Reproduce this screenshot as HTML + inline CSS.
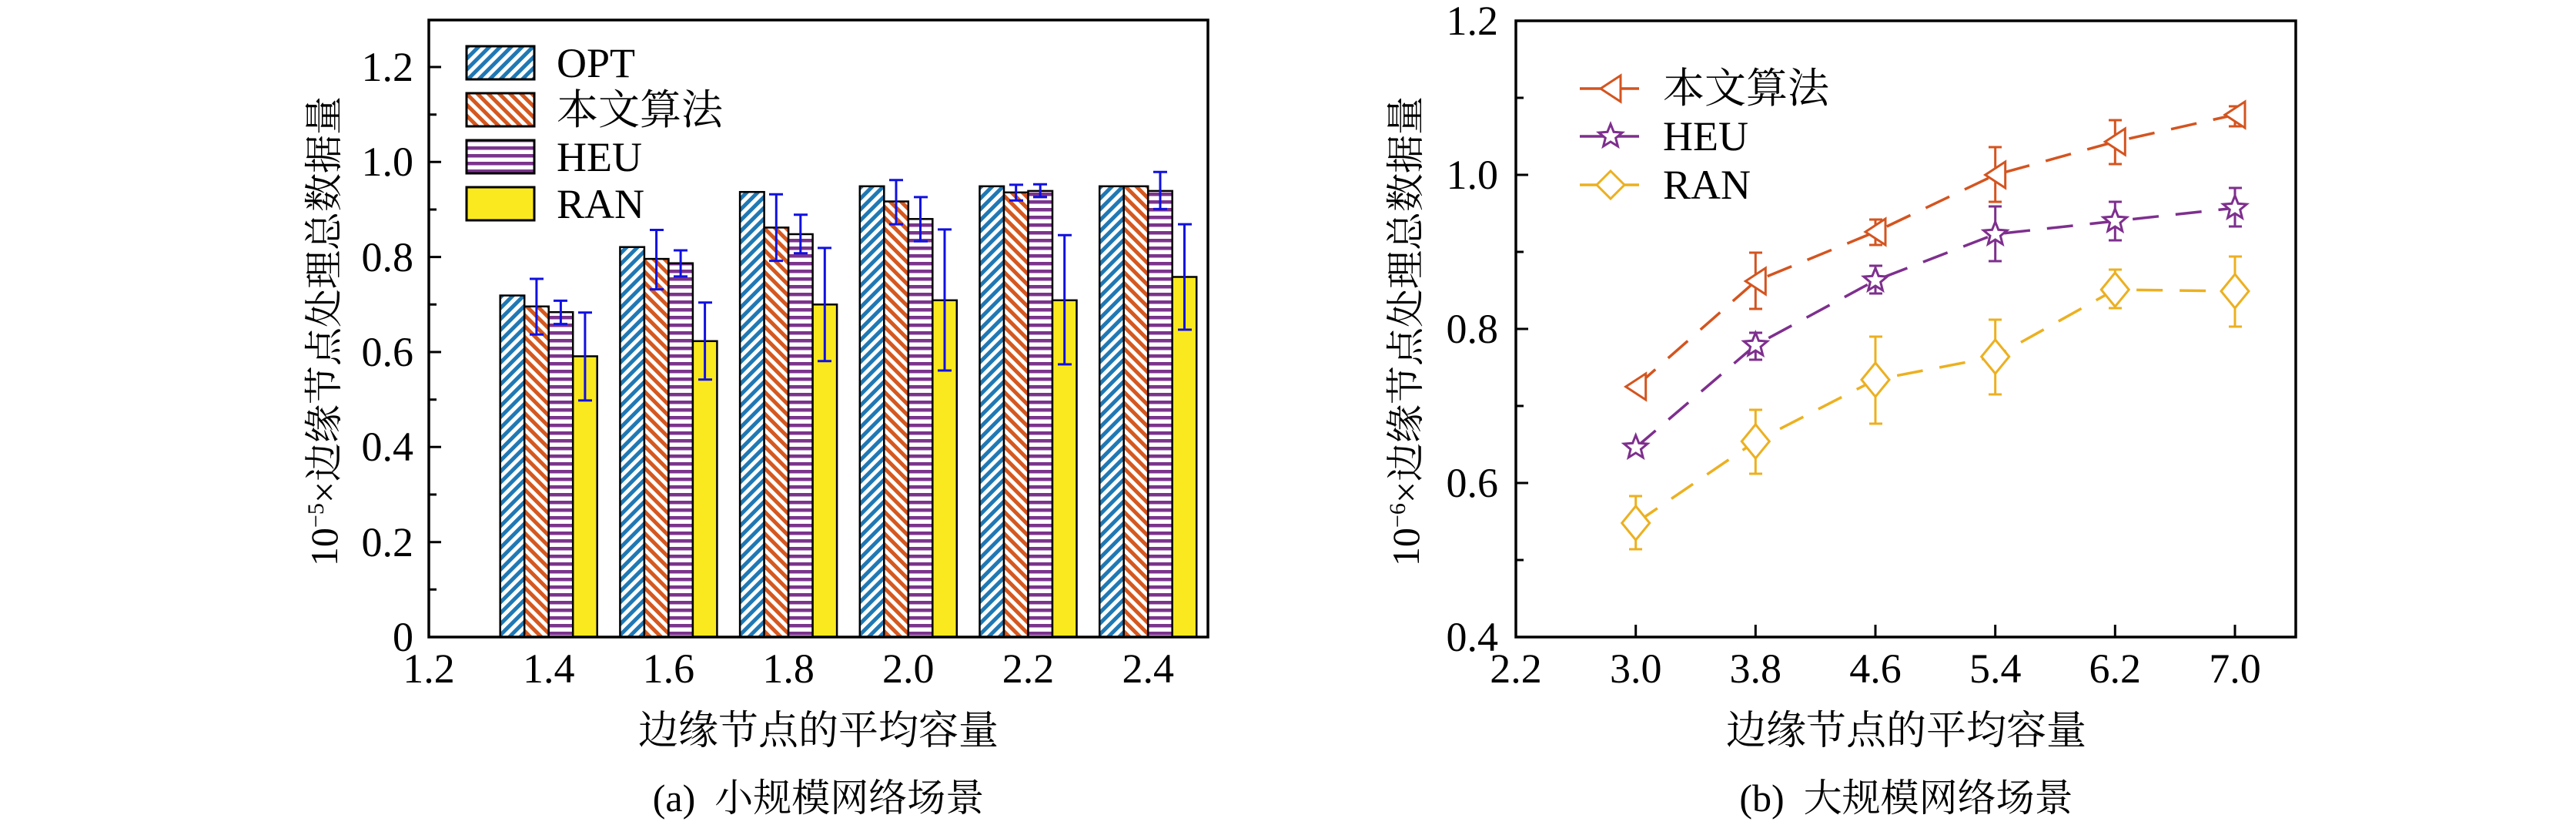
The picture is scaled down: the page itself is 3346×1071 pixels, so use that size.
<!DOCTYPE html>
<html><head><meta charset="utf-8"><style>
html,body{margin:0;padding:0;background:#fff;}
svg{display:block;}
svg text{font-family:"Liberation Serif","Times New Roman","Noto Serif CJK SC",serif;fill:#000;}
</style></head><body>
<svg width="3346" height="1071" viewBox="0 0 3346 1071" xmlns="http://www.w3.org/2000/svg" font-family="Liberation Serif, Noto Serif CJK SC, serif">
<defs>
<pattern id="pOpt" patternUnits="userSpaceOnUse" width="10" height="10" patternTransform="rotate(45)">
<rect width="10" height="10" fill="#fff"/><rect width="5" height="10" fill="#1f78b4"/></pattern>
<pattern id="pOur" patternUnits="userSpaceOnUse" width="10" height="10" patternTransform="rotate(-45)">
<rect width="10" height="10" fill="#fff"/><rect width="5" height="10" fill="#d4581f"/></pattern>
<pattern id="pHeu" patternUnits="userSpaceOnUse" width="10" height="10">
<rect width="10" height="10" fill="#fff"/><rect width="10" height="4.5" fill="#7b348c"/></pattern>
<path id="star" d="M0,-16 L4.1,-5.7 L15.2,-4.9 L6.7,2.2 L9.4,12.9 L0,7 L-9.4,12.9 L-6.7,2.2 L-15.2,-4.9 L-4.1,-5.7 Z" fill="#fff" stroke="#7e2f8e" stroke-width="3"/>
</defs>

<!-- ============ LEFT PLOT ============ -->
<g stroke="#000" stroke-width="2.5">
<rect x="649.7" y="383.6" width="31.5" height="443.4" fill="url(#pOpt)"/>
<rect x="681.2" y="397.8" width="31.5" height="429.2" fill="url(#pOur)"/>
<rect x="712.7" y="405.2" width="31.5" height="421.8" fill="url(#pHeu)"/>
<rect x="744.2" y="462.5" width="31.5" height="364.5" fill="#fbe91f"/>
<rect x="805.4" y="320.7" width="31.5" height="506.3" fill="url(#pOpt)"/>
<rect x="836.9" y="336.1" width="31.5" height="490.9" fill="url(#pOur)"/>
<rect x="868.4" y="341.7" width="31.5" height="485.3" fill="url(#pHeu)"/>
<rect x="899.9" y="442.8" width="31.5" height="384.2" fill="#fbe91f"/>
<rect x="961.1" y="249.2" width="31.5" height="577.8" fill="url(#pOpt)"/>
<rect x="992.6" y="295.4" width="31.5" height="531.6" fill="url(#pOur)"/>
<rect x="1024.1" y="304.0" width="31.5" height="523.0" fill="url(#pHeu)"/>
<rect x="1055.6" y="395.3" width="31.5" height="431.7" fill="#fbe91f"/>
<rect x="1116.8" y="241.8" width="31.5" height="585.2" fill="url(#pOpt)"/>
<rect x="1148.3" y="261.5" width="31.5" height="565.5" fill="url(#pOur)"/>
<rect x="1179.8" y="284.3" width="31.5" height="542.7" fill="url(#pHeu)"/>
<rect x="1211.3" y="389.8" width="31.5" height="437.2" fill="#fbe91f"/>
<rect x="1272.5" y="241.8" width="31.5" height="585.2" fill="url(#pOpt)"/>
<rect x="1304.0" y="249.8" width="31.5" height="577.2" fill="url(#pOur)"/>
<rect x="1335.5" y="247.9" width="31.5" height="579.1" fill="url(#pHeu)"/>
<rect x="1367.0" y="389.8" width="31.5" height="437.2" fill="#fbe91f"/>
<rect x="1428.2" y="241.8" width="31.5" height="585.2" fill="url(#pOpt)"/>
<rect x="1459.7" y="241.8" width="31.5" height="585.2" fill="url(#pOur)"/>
<rect x="1491.2" y="247.9" width="31.5" height="579.1" fill="url(#pHeu)"/>
<rect x="1522.7" y="359.5" width="31.5" height="467.5" fill="#fbe91f"/>
</g>
<g stroke="#1010e0" stroke-width="3" fill="none">
<path d="M696.9,362V434.2M688,362h18M688,434.2h18"/>
<path d="M728.4,390.4V420.6M719,390.4h18M719,420.6h18"/>
<path d="M759.9,405.8V519.9M751,405.8h18M751,519.9h18"/>
<path d="M852.6,298.5V375.6M844,298.5h18M844,375.6h18"/>
<path d="M884.1,325V358.9M875,325h18M875,358.9h18"/>
<path d="M915.6,392.8V492.7M907,392.8h18M907,492.7h18"/>
<path d="M1008.3,252.2V338.6M999,252.2h18M999,338.6h18"/>
<path d="M1039.8,278.8V328.7M1031,278.8h18M1031,328.7h18"/>
<path d="M1071.3,321.9V468.7M1062,321.9h18M1062,468.7h18"/>
<path d="M1164,233.7V291.1M1155,233.7h18M1155,291.1h18"/>
<path d="M1195.5,255.9V313.3M1187,255.9h18M1187,313.3h18"/>
<path d="M1227,297.9V481M1218,297.9h18M1218,481h18"/>
<path d="M1319.7,239.9V260.3M1311,239.9h18M1311,260.3h18"/>
<path d="M1351.2,239.3V255.9M1342,239.3h18M1342,255.9h18"/>
<path d="M1382.7,305.3V473M1374,305.3h18M1374,473h18"/>
<path d="M1507,223.3V271.4M1498,223.3h18M1498,271.4h18"/>
<path d="M1538.5,291.1V428M1530,291.1h18M1530,428h18"/>
</g>
<rect x="557" y="26" width="1012" height="801" fill="none" stroke="#000" stroke-width="3.5"/>
<g stroke="#000" stroke-width="3">
<path d="M557,703.7h16M557,580.3h16M557,457h16M557,333.6h16M557,210.3h16M557,87h16"/>
<path d="M557,765.3h10M557,642h10M557,518.7h10M557,395.3h10M557,272h10M557,148.7h10"/>
</g>
<g font-size="54" text-anchor="end">
<text x="537" y="845">0</text><text x="537" y="722">0.2</text><text x="537" y="598">0.4</text>
<text x="537" y="475">0.6</text><text x="537" y="352">0.8</text><text x="537" y="228">1.0</text><text x="537" y="105">1.2</text>
</g>
<g font-size="54" text-anchor="middle">
<text x="557" y="886">1.2</text><text x="712.7" y="886">1.4</text><text x="868.4" y="886">1.6</text>
<text x="1024.1" y="886">1.8</text><text x="1179.8" y="886">2.0</text><text x="1335.5" y="886">2.2</text><text x="1491.2" y="886">2.4</text>
</g>
<g stroke="#000" stroke-width="3">
<rect x="606" y="60" width="88" height="43" fill="url(#pOpt)"/>
<rect x="606" y="121" width="88" height="43" fill="url(#pOur)"/>
<rect x="606" y="182" width="88" height="43" fill="url(#pHeu)"/>
<rect x="606" y="243" width="88" height="43" fill="#fbe91f"/>
</g>
<g font-size="54">
<text x="723" y="100">OPT</text><text x="723" y="161">本文算法</text>
<text x="723" y="222">HEU</text><text x="723" y="283">RAN</text>
</g>
<text font-size="50" text-anchor="middle" transform="translate(438,430) rotate(-90)">10<tspan dy="-18" font-size="30">−5</tspan><tspan dy="18">×边缘节点处理总数据量</tspan></text>
<text x="1063" y="966" font-size="52" text-anchor="middle">边缘节点的平均容量</text>
<text x="1063" y="1053" font-size="50" text-anchor="middle" xml:space="preserve">(a)  小规模网络场景</text>

<!-- ============ RIGHT PLOT ============ -->
<rect x="1969" y="27" width="1013" height="800" fill="none" stroke="#000" stroke-width="3.5"/>
<g stroke="#000" stroke-width="3">
<path d="M1969,627h16M1969,427h16M1969,227h16M1969,727h10M1969,527h10M1969,327h10M1969,127h10"/>
<path d="M2124.7,827v-16M2280.3,827v-16M2436,827v-16M2591.7,827v-16M2747.3,827v-16M2903,827v-16"/>
</g>
<g font-size="54" text-anchor="end">
<text x="1946" y="845">0.4</text><text x="1946" y="645">0.6</text><text x="1946" y="445">0.8</text>
<text x="1946" y="245">1.0</text><text x="1946" y="45">1.2</text>
</g>
<g font-size="54" text-anchor="middle">
<text x="1969" y="886">2.2</text><text x="2124.7" y="886">3.0</text><text x="2280.3" y="886">3.8</text>
<text x="2436" y="886">4.6</text><text x="2591.7" y="886">5.4</text><text x="2747.3" y="886">6.2</text><text x="2903" y="886">7.0</text>
</g>
<g fill="none" stroke-width="3.5" stroke-dasharray="34 22">
<polyline stroke="#d4541f" points="2124.7,502 2280.3,365 2436,301 2591.7,227 2747.3,184 2903,149"/>
<polyline stroke="#7e2f8e" points="2124.7,581 2280.3,448 2436,364 2591.7,304 2747.3,287 2903,270"/>
<polyline stroke="#ecb020" points="2124.7,679 2280.3,573 2436,493 2591.7,463 2747.3,376 2903,378"/>
</g>
<g fill="none" stroke-width="3">
<g stroke="#d4541f">
<path d="M2280.3,328V401M2272,328h17M2272,401h17"/>
<path d="M2436,285V318M2428,285h17M2428,318h17"/>
<path d="M2591.7,191V262M2583,191h17M2583,262h17"/>
<path d="M2747.3,156V213M2739,156h17M2739,213h17"/>
<path d="M2903,138V164M2895,138h17M2895,164h17"/>
</g>
<g stroke="#7e2f8e">
<path d="M2280.3,432V467M2272,432h17M2272,467h17"/>
<path d="M2436,345V381M2428,345h17M2428,381h17"/>
<path d="M2591.7,268V339M2583,268h17M2583,339h17"/>
<path d="M2747.3,262V312M2739,262h17M2739,312h17"/>
<path d="M2903,244V294M2895,244h17M2895,294h17"/>
</g>
<g stroke="#ecb020">
<path d="M2124.7,644V713M2116,644h17M2116,713h17"/>
<path d="M2280.3,532V615M2272,532h17M2272,615h17"/>
<path d="M2436,437V550M2428,437h17M2428,550h17"/>
<path d="M2591.7,415V512M2583,415h17M2583,512h17"/>
<path d="M2747.3,350V400M2739,350h17M2739,400h17"/>
<path d="M2903,333V424M2895,333h17M2895,424h17"/>
</g>
</g>
<g fill="#fff" stroke="#d4541f" stroke-width="3">
<polygon points="2111.7,502 2137.7,485 2137.7,519"/>
<polygon points="2267.3,365 2293.3,348 2293.3,382"/>
<polygon points="2423,301 2449,284 2449,318"/>
<polygon points="2578.7,227 2604.7,210 2604.7,244"/>
<polygon points="2734.3,184 2760.3,167 2760.3,201"/>
<polygon points="2890,149 2916,132 2916,166"/>
</g>
<use href="#star" x="2124.7" y="581"/><use href="#star" x="2280.3" y="448"/><use href="#star" x="2436" y="364"/>
<use href="#star" x="2591.7" y="304"/><use href="#star" x="2747.3" y="287"/><use href="#star" x="2903" y="270"/>
<g fill="#fff" stroke="#ecb020" stroke-width="3">
<polygon points="2124.7,657 2142.7,679 2124.7,701 2106.7,679"/>
<polygon points="2280.3,551 2298.3,573 2280.3,595 2262.3,573"/>
<polygon points="2436,471 2454,493 2436,515 2418,493"/>
<polygon points="2591.7,441 2609.7,463 2591.7,485 2573.7,463"/>
<polygon points="2747.3,354 2765.3,376 2747.3,398 2729.3,376"/>
<polygon points="2903,356 2921,378 2903,400 2885,378"/>
</g>
<g stroke-width="3.5" fill="#fff">
<path d="M2052,115H2129" stroke="#d4541f"/>
<polygon points="2079,115 2105,98 2105,132" stroke="#d4541f" stroke-width="3"/>
<path d="M2052,177H2129" stroke="#7e2f8e"/>
<path d="M2052,240H2129" stroke="#ecb020"/>
<polygon points="2092,222 2110,240 2092,258 2074,240" stroke="#ecb020" stroke-width="3"/>
</g>
<use href="#star" x="2092" y="177"/>
<g font-size="54">
<text x="2160" y="133">本文算法</text><text x="2160" y="195">HEU</text><text x="2160" y="258">RAN</text>
</g>
<text font-size="50" text-anchor="middle" transform="translate(1843,430) rotate(-90)">10<tspan dy="-18" font-size="30">−6</tspan><tspan dy="18">×边缘节点处理总数据量</tspan></text>
<text x="2476" y="966" font-size="52" text-anchor="middle">边缘节点的平均容量</text>
<text x="2476" y="1053" font-size="50" text-anchor="middle" xml:space="preserve">(b)  大规模网络场景</text>
</svg>
</body></html>
